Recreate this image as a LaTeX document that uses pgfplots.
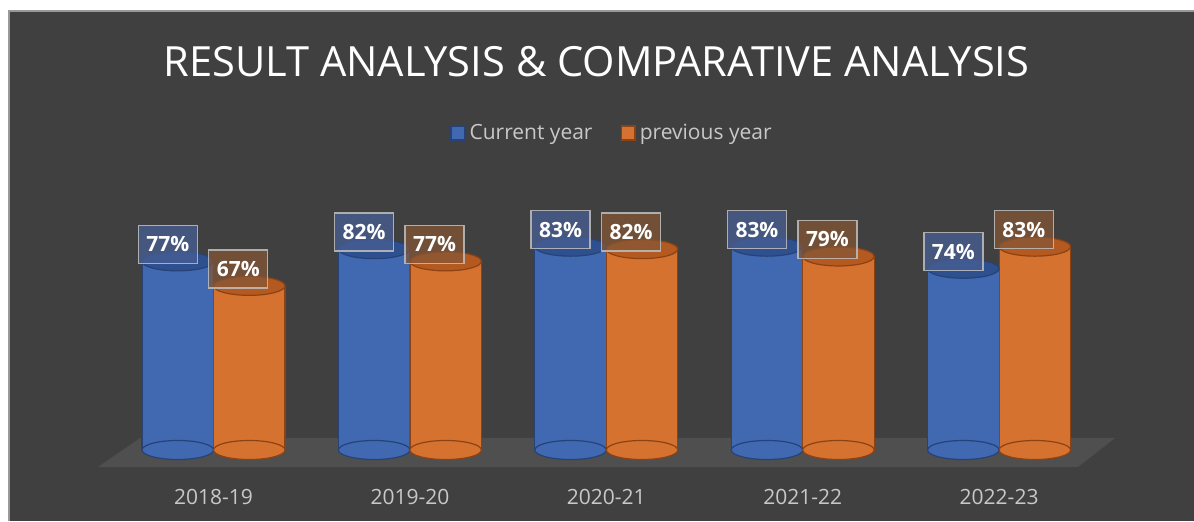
\documentclass[border=0pt]{standalone}
\usepackage{fontspec}
\setmainfont{Open Sans}
\usepackage{pgfplots}
\usepackage{pgfplotstable}
\pgfplotsset{compat=1.18}
\definecolor{bgc}{RGB}{64,64,64}
\definecolor{floorc}{RGB}{80,79,80}
\definecolor{blueBody}{RGB}{64,105,177}
\definecolor{blueEdge}{RGB}{38,66,120}
\definecolor{blueTop}{RGB}{47,80,142}
\definecolor{orBody}{RGB}{214,114,48}
\definecolor{orEdge}{RGB}{140,66,18}
\definecolor{orTop}{RGB}{180,90,32}
\definecolor{blueBox}{RGB}{72,96,148}
\definecolor{orBox}{RGB}{132,86,54}
\definecolor{txtgray}{RGB}{200,200,200}
\pgfplotstableread{
x cur prev
0 77 67
1 82 77
2 83 82
3 83 79
4 74 83
}\datatable
\begin{document}
\begin{tikzpicture}
\fill[white] (0,0) rectangle (597pt,260.5pt);
\path[use as bounding box] (0,0) rectangle (597pt,260.5pt);
\begin{axis}[
  at={(4.5pt,0pt)}, anchor=south west,
  scale only axis, width=592.5pt, height=255pt,
  xmin=-1.0413, xmax=4.9924, ymin=-28.98, ymax=179.18,
  clip=false,
  axis background/.style={fill=bgc},
  axis line style={draw=none},
  major tick length=0pt,
  ytick=\empty,
  xtick={0,1,2,3,4},
  xticklabels={2018-19,2019-20,2020-21,2021-22,2022-23},
  xticklabel style={text=txtgray, anchor=center, yshift=12pt, font=\fontsize{10.5}{12}\selectfont},
  legend style={at={(rel axis cs:0.5097,0.7608)}, anchor=center, draw=none, fill=none,
    text=txtgray, font=\fontsize{10.5}{12}\selectfont,
    /tikz/every even column/.append style={column sep=12pt}},
  legend columns=2,
  legend cell align=left,
]
% floor
\addplot[fill=floorc, draw=none, forget plot] coordinates {(-0.588,-6.94) (4.402,-6.94) (4.590,4.90) (-0.374,4.90)} -- cycle;
% blue cylinders
\addplot[only marks, mark=*, mark size=17.875pt, forget plot,
  mark options={yscale=0.266, fill=blueBody, draw=blueEdge, line width=0.6pt}]
  table[x expr=\thisrow{x}-0.182, y expr=0] \datatable;
\addplot[ybar, bar width=0.364, bar shift=0pt, fill=blueBody, draw=blueEdge, line width=0.6pt,
  legend image code/.code={\fill[blueEdge] (0pt,-3.6pt) rectangle (7pt,3.6pt); \fill[blueBody] (0.7pt,-2.9pt) rectangle (6.3pt,2.9pt);}]
  table[x expr=\thisrow{x}-0.182, y=cur] \datatable;
\addlegendentry{Current year}
\addplot[only marks, mark=*, mark size=17.875pt, forget plot,
  mark options={yscale=0.266, fill=blueTop, draw=blueEdge, line width=0.6pt}]
  table[x expr=\thisrow{x}-0.182, y=cur] \datatable;
% orange cylinders
\addplot[only marks, mark=*, mark size=17.875pt, forget plot,
  mark options={yscale=0.266, fill=orBody, draw=orEdge, line width=0.6pt}]
  table[x expr=\thisrow{x}+0.182, y expr=0] \datatable;
\addplot[ybar, bar width=0.364, bar shift=0pt, fill=orBody, draw=orEdge, line width=0.6pt,
  legend image code/.code={\fill[orEdge] (0pt,-3.6pt) rectangle (7pt,3.6pt); \fill[orBody] (0.7pt,-2.9pt) rectangle (6.3pt,2.9pt);}]
  table[x expr=\thisrow{x}+0.182, y=prev] \datatable;
\addlegendentry{previous year}
\addplot[only marks, mark=*, mark size=17.875pt, forget plot,
  mark options={yscale=0.266, fill=orTop, draw=orEdge, line width=0.6pt}]
  table[x expr=\thisrow{x}+0.182, y=prev] \datatable;
% data labels
\addplot[only marks, mark=none, forget plot,
  nodes near coords={\pgfmathprintnumber[assume math mode=true]{\pgfplotspointmeta}\%},
  every node near coord/.append style={anchor=center, xshift=-5pt, yshift=8.5pt,
    fill=blueBox, fill opacity=0.75, text opacity=1, draw=white!75!black, draw opacity=0.85,
    line width=0.7pt, text=white, font=\bfseries\fontsize{10.5}{12}\selectfont,
    minimum width=29.5pt, minimum height=19pt, inner sep=0pt}]
  table[x expr=\thisrow{x}-0.182, y=cur] \datatable;
\addplot[only marks, mark=none, forget plot,
  nodes near coords={\pgfmathprintnumber[assume math mode=true]{\pgfplotspointmeta}\%},
  every node near coord/.append style={anchor=center, xshift=-5.5pt, yshift=8.5pt,
    fill=orBox, fill opacity=0.75, text opacity=1, draw=white!75!black, draw opacity=0.85,
    line width=0.7pt, text=white, font=\bfseries\fontsize{10.5}{12}\selectfont,
    minimum width=29.5pt, minimum height=19pt, inner sep=0pt}]
  table[x expr=\thisrow{x}+0.182, y=prev] \datatable;
% border and title
\draw[white!60!black, line width=0.8pt] (rel axis cs:0,0) -- (rel axis cs:0,1) -- (rel axis cs:1,1);
\node[font=\fontsize{20.8}{24}\selectfont, text=white, anchor=base] at (rel axis cs:0.4958,0.8725) {RESULT ANALYSIS \& COMPARATIVE ANALYSIS};
\end{axis}
\end{tikzpicture}
\end{document}
